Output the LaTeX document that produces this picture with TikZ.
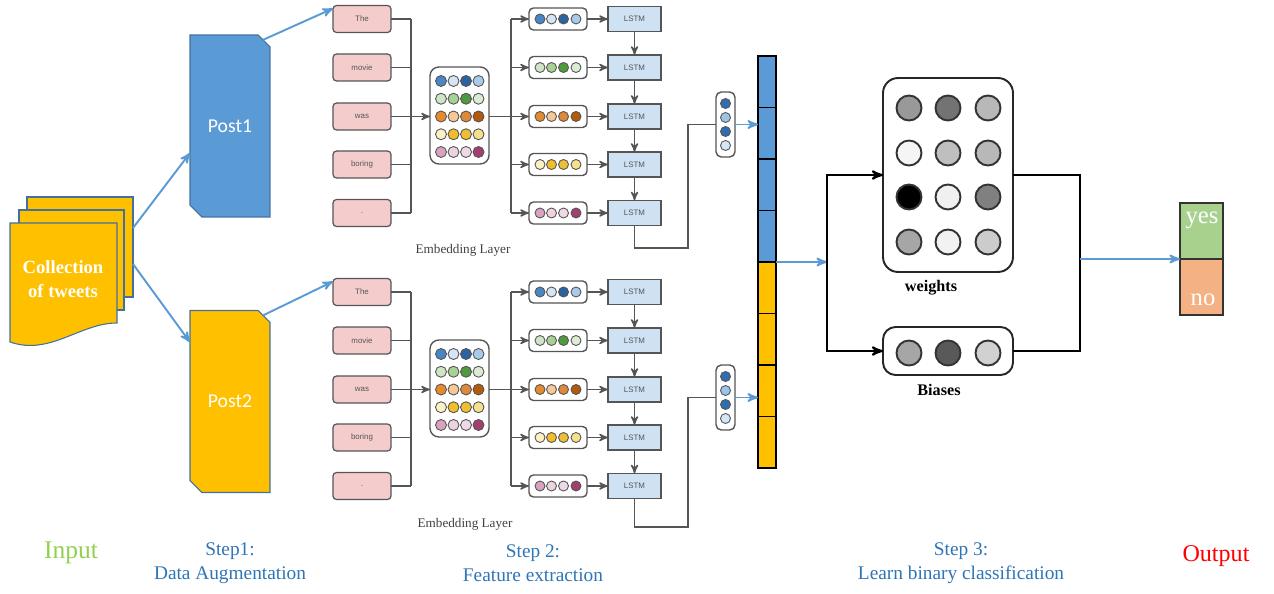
\documentclass[tikz,border=0pt]{standalone}
\usepackage{fontspec}
\setmainfont{Liberation Serif}
\setsansfont{Liberation Sans}
\newfontfamily\postfont{Carlito}
\usepackage{tikz}
\usetikzlibrary{arrows, positioning, shapes.misc}

\definecolor{postblue}{HTML}{5B9BD5}
\definecolor{postgold}{HTML}{FFC000}
\definecolor{postedge}{HTML}{41719C}
\definecolor{wordpink}{HTML}{F4CCCC}
\definecolor{lstmblue}{HTML}{CFE2F3}
\definecolor{linegray}{HTML}{555555}
\definecolor{stepblue}{HTML}{2E75B6}
\definecolor{inputgreen}{HTML}{92D050}
\definecolor{yesgreen}{HTML}{A9D18E}
\definecolor{noorange}{HTML}{F4B183}
% embedding colours, one row per word
\definecolor{e1a}{HTML}{4A86C5}\definecolor{e1b}{HTML}{D5E5F5}\definecolor{e1c}{HTML}{2B63A0}\definecolor{e1d}{HTML}{A9CBEA}
\definecolor{e2a}{HTML}{CFE5C5}\definecolor{e2b}{HTML}{A8D196}\definecolor{e2c}{HTML}{4F9A3F}\definecolor{e2d}{HTML}{DCEBD6}
\definecolor{e3a}{HTML}{E68A2E}\definecolor{e3b}{HTML}{F6C797}\definecolor{e3c}{HTML}{E0883A}\definecolor{e3d}{HTML}{B35A0C}
\definecolor{e4a}{HTML}{FCF1C4}\definecolor{e4b}{HTML}{F0BE2C}\definecolor{e4c}{HTML}{EDBE36}\definecolor{e4d}{HTML}{F6DF8E}
\definecolor{e5a}{HTML}{D9A3C0}\definecolor{e5b}{HTML}{EDD2E0}\definecolor{e5c}{HTML}{EFD9E5}\definecolor{e5d}{HTML}{A33F6E}
\definecolor{hva}{HTML}{2E6DB0}\definecolor{hvb}{HTML}{9DC3E6}\definecolor{hvc}{HTML}{D6E6F5}

\begin{document}
\begin{tikzpicture}[
  x=0.02cm, y=-0.02cm, >=stealth',
  every node/.style={inner sep=0pt, outer sep=0pt},
  doc/.style={fill=postgold, draw=postedge, line width=0.6pt},
  post/.style={chamfered rectangle, chamfered rectangle corners={north east, south west},
               chamfered rectangle xsep=0.26cm, draw=postedge, line width=0.6pt,
               minimum width=1.6cm, minimum height=3.64cm, text=white,
               font=\postfont\fontsize{11.2}{13}\selectfont},
  wordbox/.style={draw=linegray, fill=wordpink, line width=0.7pt, rounded corners=2pt,
                  minimum width=1.16cm, minimum height=0.54cm, text=linegray,
                  font=\sffamily\fontsize{4.5}{5}\selectfont},
  embbox/.style={draw=linegray, fill=white, line width=0.8pt, rounded corners=5pt,
                 minimum width=1.18cm, minimum height=1.94cm},
  vecbox/.style={draw=linegray, fill=white, line width=0.8pt, rounded corners=2.5pt,
                 minimum width=1.16cm, minimum height=0.44cm},
  lstmbox/.style={draw=linegray, fill=lstmblue, line width=0.6pt,
                  minimum width=1.06cm, minimum height=0.5cm, text=linegray,
                  font=\sffamily\fontsize{4.5}{5}\selectfont},
  hvbox/.style={draw=linegray, fill=white, line width=0.8pt, rounded corners=3pt,
                minimum width=0.38cm, minimum height=1.3cm},
  dot/.style={draw=linegray, line width=0.5pt},
  wire/.style={draw=linegray, line width=0.8pt},
  feed/.style={wire, ->},
  bluearrow/.style={draw=postblue, line width=1.1pt, ->},
  barcell/.style={draw=black, line width=0.7pt, minimum width=0.36cm, minimum height=1.03cm},
  layerbox/.style={draw=black!85, fill=white, line width=1.1pt, rounded corners=0.3cm,
                   minimum width=2.6cm},
  unit/.style={draw=black!80, line width=1.1pt},
  blackwire/.style={draw=black, line width=1.2pt},
  outcell/.style={draw=black!80, line width=0.8pt, minimum width=0.86cm, minimum height=1.12cm},
  caption/.style={font=\fontsize{7.5}{9}\selectfont, text=black!75},
  steptext/.style={align=center, text=stepblue, font=\fontsize{11}{13.6}\selectfont}]

  \useasboundingbox (0,0) rectangle (1274,594);

  % input documents
  \filldraw[doc] (27,197) rectangle (133,297);
  \filldraw[doc] (19,210) rectangle (124,310);
  \filldraw[doc] (10,223) -- (117,223) -- (117,323) .. controls (80,323) and (50,356) .. (10,342) -- cycle;
  \node[text=white, align=center, font=\bfseries\fontsize{10.6}{13.6}\selectfont] (tweets) at (63,279) {Collection\\of tweets};
  \coordinate (docA) at (133,228);
  \coordinate (docB) at (133,264);

  \node[post, fill=postblue] (post1) at (230,126)   {Post1};
  \node[post, fill=postgold] (post2) at (230,401.5) {Post2};

  \draw[bluearrow] (docA) -- (post1.214);
  \draw[bluearrow] (docB) -- (post2.124);

  % the two feature pipelines
  \foreach \p/\dy/\ty in {u/0/248, l/273/527} {
    \coordinate (wbus\p) at (411,\dy);
    \coordinate (vbus\p) at (511,\dy);
    \coordinate (turn\p) at (688,\ty);
    \node[embbox] (emb\p) at (459.5,115.5+\dy) {};
    \node[hvbox]  (hv\p)  at (725.5,124.5+\dy) {};
    \foreach \i/\w/\y in {1/The/19, 2/movie/67.5, 3/was/116.5, 4/boring/164.5, 5/./213} {
      \node[wordbox] (word\p\i) at (362,\y+\dy)   {\w};
      \node[vecbox]  (vec\p\i)  at (558,\y+\dy)   {};
      \node[lstmbox] (lstm\p\i) at (634.5,\y+\dy) {LSTM};
      \draw[wire] (word\p\i.east) -- (word\p\i.east -| wbus\p);
      \draw[feed] (vec\p\i.west -| vbus\p) -- (vec\p\i.west);
      \draw[feed] (vec\p\i.east) -- (lstm\p\i.west);
      \foreach \c/\x in {a/540, b/551.5, c/563.5, d/576}
        \filldraw[dot, fill=e\i\c] (\x,\y+\dy) circle (0.1cm);
      \foreach \c/\x in {a/441, b/453.5, c/466, d/478.5}
        \filldraw[dot, fill=e\i\c] (\x,{63.25+17.75*\i+\dy}) circle (0.11cm);
    }
    \draw[wire] (word\p1.east -| wbus\p) -- (word\p5.east -| wbus\p);
    \draw[feed] (word\p3.east) -- (word\p3.east -| emb\p.west);
    \draw[wire] (vec\p1.west -| vbus\p) -- (vec\p5.west -| vbus\p);
    \draw[wire] (vec\p3.west -| emb\p.east) -- (vec\p3.west -| vbus\p);
    \foreach \i/\j in {1/2, 2/3, 3/4, 4/5}
      \draw[feed] (lstm\p\i.south) -- (lstm\p\j.north);
    \draw[wire] (lstm\p5.south) |- (turn\p) |- (hv\p.west);
    \foreach \c/\k in {hva/-21, hvb/-7, hva/7, hvc/21}
      \filldraw[dot, fill=\c] (725.5,{124.5+\k+\dy}) circle (0.1cm);
  }

  \node[caption] (embcapu) at (463,250) {Embedding Layer};
  \node[caption] (embcapl) at (465,524) {Embedding Layer};

  \draw[bluearrow] (post1.69) -- (wordu1.160);
  \draw[bluearrow] (post2.69) -- (wordl1.160);

  % concatenated vector
  \foreach \k/\c in {1/postblue, 2/postblue, 3/postblue, 4/postblue,
                     5/postgold, 6/postgold, 7/postgold, 8/postgold}
    \node[barcell, fill=\c] (bar\k) at (767,{30.25+51.5*\k}) {};

  \draw[bluearrow] (hvu.east) -- (hvu.east -| bar1.west);
  \draw[bluearrow] (hvl.east) -- (hvl.east -| bar1.west);

  % classifier
  \coordinate (split) at (827,262);
  \coordinate (merge) at (1080,259);
  \node[layerbox, minimum height=3.88cm] (weights) at (948,175) {};
  \node[layerbox, minimum height=0.96cm, rounded corners=0.25cm] (biases) at (948,351) {};
  \foreach \x/\y/\g in {909/108/40, 948/108/55, 988/108/28,
                        909/153/4,  948/153/25, 988/153/28,
                        909/197/100, 948/197/6, 988/197/50,
                        909/242/35, 948/242/5,  988/242/20}
    \filldraw[unit, fill=black!\g] (\x,\y) circle (0.25cm);
  \foreach \x/\g in {909/35, 948/65, 988/18}
    \filldraw[unit, fill=black!\g] (\x,353) circle (0.25cm);

  \draw[bluearrow] (bar4.south east) -- (split);
  \draw[blackwire, ->] (split) |- (weights.west);
  \draw[blackwire, ->] (split) |- (biases.west);
  \draw[blackwire] (weights.east) -| (merge) |- (biases.east);

  \node[font=\bfseries\fontsize{9.2}{11}\selectfont] (wlabel) at (931,288) {weights};
  \node[font=\bfseries\fontsize{9.2}{11}\selectfont] (blabel) at (939,390) {Biases};

  % output
  \node[outcell, fill=yesgreen] (yes) at (1201.5,231) {};
  \node[outcell, fill=noorange] (no)  at (1201.5,287) {};
  \node[text=white, font=\fontsize{14}{16}\selectfont] (yestext) at (1202,220) {yes};
  \node[text=white, font=\fontsize{14}{16}\selectfont] (notext)  at (1203,300) {no};
  \draw[bluearrow] (merge) -- (yes.south west);

  % step captions
  \node[text=inputgreen, font=\fontsize{14.5}{16}\selectfont] (input) at (71,553) {Input};
  \node[steptext] (step1) at (230,563) {Step1:\\Data Augmentation};
  \node[steptext] (step2) at (533,563) {Step 2:\\Feature extraction};
  \node[steptext] (step3) at (961,563) {Step 3:\\Learn binary classification};
  \node[text=red, font=\fontsize{13.7}{16}\selectfont] (output) at (1216,556) {Output};

\end{tikzpicture}
\end{document}
